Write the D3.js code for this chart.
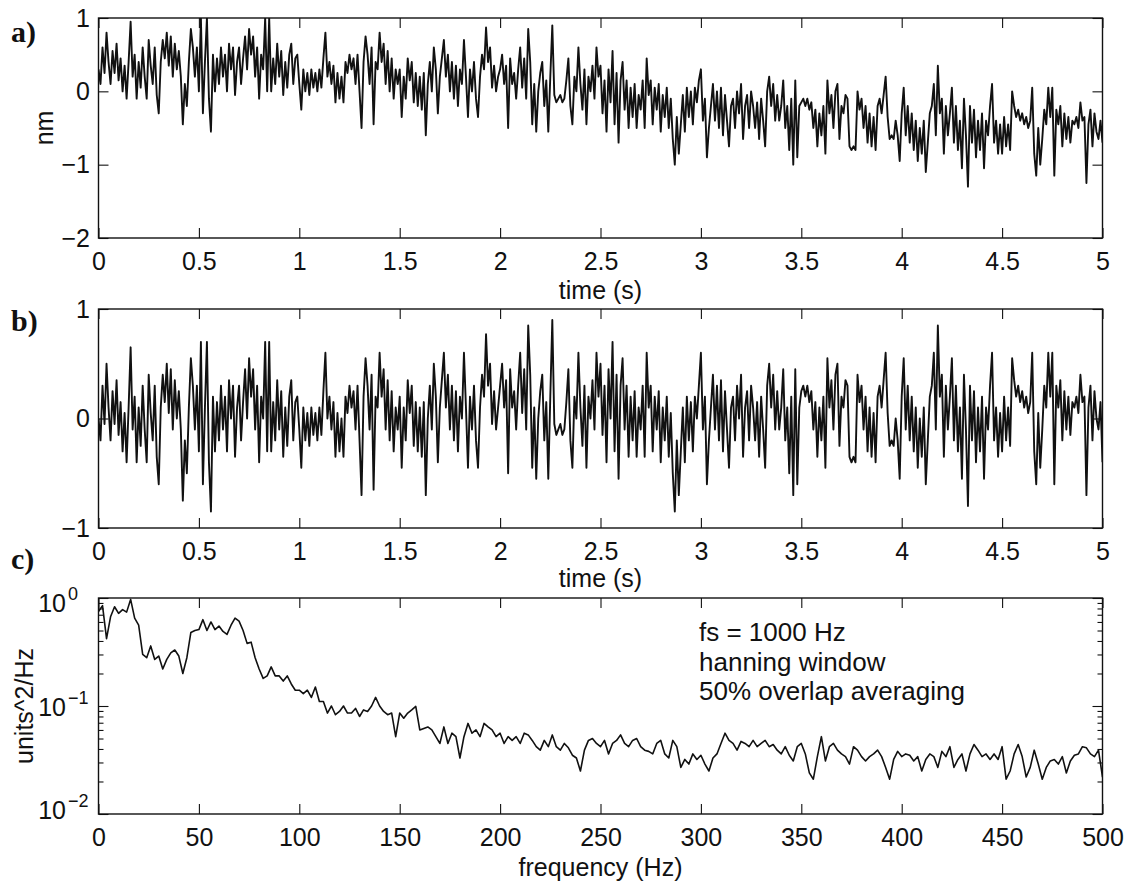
<!DOCTYPE html>
<html>
<head>
<meta charset="utf-8">
<script src="https://cdn.jsdelivr.net/npm/d3@7"></script>
<style>
  body { margin: 0; background: #fff; }
  svg text { font-family: "Liberation Sans", Arial, Helvetica, sans-serif; fill: #111; }
  .tk text { font-size: 25px; }
  .tk line { stroke: #111; stroke-width: 1.1; }
  .tag { font-family: "Liberation Serif", "Times New Roman", serif !important; font-weight: bold; font-size: 30px; }
</style>
</head>
<body>
<svg id="chart" width="1131" height="883"></svg>
<script>
// ---------------- data ----------------
const timeStep = 0.01;   // seconds between plotted samples
const freqStep = 2;      // Hz between spectrum bins

const timeTicks = [0, 0.5, 1, 1.5, 2, 2.5, 3, 3.5, 4, 4.5, 5];
const rawTicks = [-2, -1, 0, 1];
const detrendTicks = [-1, 0, 1];
const freqTicks = [0, 50, 100, 150, 200, 250, 300, 350, 400, 450, 500];
const psdDecades = [-2, -1, 0];
const annotationLines = ["fs = 1000 Hz", "hanning window", "50% overlap averaging"];

// a) raw displacement (nm), 0 … 5 s
const rawSignal = [
  0.30,0.10,0.60,0.25,0.80,0.40,0.10,0.55,0.25,0.65,
  0.15,0.45,0.00,0.35,-0.10,0.40,0.95,0.20,0.50,-0.10,
  0.40,0.05,0.60,0.20,-0.10,0.70,0.35,0.10,0.60,-0.05,
  -0.30,0.40,0.70,0.45,0.80,0.35,0.75,0.20,0.65,0.30,
  0.55,0.20,-0.45,0.10,-0.20,0.40,0.85,0.60,0.20,0.60,
  0.00,1.00,-0.30,0.40,1.00,-0.10,-0.55,0.50,0.00,0.45,
  0.10,0.60,0.20,0.50,0.00,0.65,0.30,0.60,-0.05,0.40,
  0.60,0.10,0.45,0.75,0.30,0.85,0.50,0.75,0.20,0.60,
  -0.10,0.50,0.30,1.00,0.00,1.00,0.00,0.45,0.10,0.65,
  0.20,0.55,-0.05,0.40,0.05,0.50,0.65,0.10,0.45,0.50,
  0.10,-0.25,0.30,0.00,0.25,-0.05,0.30,0.05,0.25,0.00,
  0.30,0.05,0.45,0.80,0.20,0.40,0.10,0.35,-0.15,0.25,
  -0.10,0.20,-0.15,0.40,0.25,0.50,0.30,0.45,0.10,0.50,
  0.00,-0.50,0.40,0.75,0.50,0.10,0.60,-0.45,0.40,0.30,
  0.80,0.40,0.65,0.10,0.55,0.00,0.45,-0.10,0.30,0.10,
  0.30,-0.35,0.20,-0.10,0.45,0.15,0.40,-0.15,0.25,-0.20,
  0.20,-0.25,0.25,-0.60,0.10,0.40,0.00,0.60,0.30,-0.30,
  0.20,0.45,0.70,0.20,0.50,0.00,0.40,-0.10,0.35,-0.20,
  0.30,0.10,0.70,0.20,-0.35,0.30,0.00,0.40,-0.10,-0.35,
  0.20,0.50,0.30,0.87,0.40,0.60,0.05,0.35,0.00,0.20,
  0.30,0.50,0.10,0.35,-0.50,0.45,0.10,0.25,-0.10,0.30,
  0.60,0.05,0.45,-0.10,0.85,0.40,-0.45,0.10,-0.55,0.00,
  0.25,0.40,-0.20,0.15,-0.55,0.20,0.90,-0.05,-0.15,-0.10,
  -0.05,-0.15,-0.10,0.15,0.45,-0.20,-0.45,0.20,0.00,0.60,
  0.10,-0.25,0.30,-0.45,0.20,0.00,0.35,-0.10,0.60,0.20,
  0.35,-0.30,0.15,-0.55,0.30,-0.15,0.55,-0.45,0.25,-0.70,
  0.15,0.40,-0.25,0.15,-0.50,0.05,-0.35,0.10,-0.50,-0.05,
  -0.25,0.15,-0.50,0.45,-0.05,0.15,-0.45,0.05,-0.25,0.10,
  -0.55,-0.05,-0.35,0.05,-0.50,-0.10,-0.65,-1.00,-0.35,-0.85,
  -0.45,-0.05,-0.55,0.05,-0.35,0.00,-0.45,0.05,-0.15,0.15,
  0.30,-0.40,-0.10,-0.90,-0.50,-0.20,0.10,-0.40,0.00,-0.50,
  0.05,-0.60,-0.05,-0.40,-0.75,-0.20,-0.10,-0.50,0.00,-0.30,
  0.10,-0.65,-0.20,-0.05,-0.50,0.00,-0.20,-0.50,-0.15,-0.65,
  -0.10,-0.40,-0.75,0.00,0.20,-0.20,0.10,-0.40,-0.05,-0.40,
  -0.20,0.15,-0.50,-0.20,-0.80,-0.10,-1.00,0.15,-0.90,-0.20,
  -0.15,-0.10,-0.20,-0.10,-0.25,-0.15,-0.50,-0.25,-0.75,-0.30,
  -0.60,-0.20,-0.85,0.15,-0.30,-0.05,-0.50,0.00,0.10,-0.65,
  -0.20,-0.30,-0.05,-0.10,-0.75,-0.80,-0.75,-0.80,0.00,-0.25,
  -0.10,-0.50,-0.20,-0.70,-0.30,-0.75,-0.35,-0.80,-0.20,-0.10,
  -0.30,-0.05,0.20,-0.35,-0.65,-0.60,-0.65,-0.40,-0.60,-0.95,
  -0.30,0.05,-0.60,-0.20,-0.70,-0.30,-0.80,-0.40,-0.95,-0.50,
  -0.85,-0.40,-1.10,-0.70,-0.30,-0.20,0.10,-0.60,0.35,-0.30,
  -0.10,-0.85,-0.20,-0.60,-0.30,0.05,-0.70,-0.20,-0.80,-0.40,
  -1.05,-0.10,-0.60,-1.30,-0.20,-0.70,-0.25,-0.90,-0.40,-0.80,
  -0.30,-1.05,-0.40,-0.60,-0.20,0.10,-0.70,-0.40,-0.85,-0.45,
  -0.85,-0.35,-0.75,-0.45,-0.80,0.00,-0.20,-0.35,-0.25,-0.40,
  -0.30,-0.45,-0.35,-0.50,-0.40,0.05,-0.85,-1.15,-0.50,-1.00,
  -0.65,-0.25,-0.45,0.05,-0.35,0.05,-1.15,-0.25,-0.45,-0.20,
  -0.75,-0.30,-0.65,-0.35,-0.70,-0.40,-0.45,-0.35,-0.50,-0.15,
  -0.40,-0.35,-1.25,-0.45,-0.25,-0.75,-0.30,-0.55,-0.65,-0.40,
  -0.70
];

// b) same record after trend removal
const detrendedSignal = [
  0.00,-0.20,0.30,-0.05,0.50,0.10,-0.20,0.25,-0.05,0.35,
  -0.15,0.15,-0.30,0.05,-0.40,0.10,0.65,-0.10,0.20,-0.40,
  0.10,-0.25,0.30,-0.10,-0.40,0.40,0.05,-0.20,0.30,-0.35,
  -0.60,0.10,0.40,0.15,0.50,0.05,0.45,-0.10,0.35,0.00,
  0.25,-0.10,-0.75,-0.20,-0.50,0.10,0.55,0.30,-0.10,0.30,
  -0.30,0.70,-0.60,0.10,0.70,-0.40,-0.85,0.20,-0.30,0.15,
  -0.20,0.30,-0.10,0.20,-0.30,0.35,0.00,0.30,-0.35,0.10,
  0.30,-0.20,0.15,0.45,0.00,0.55,0.20,0.45,-0.10,0.30,
  -0.40,0.20,0.00,0.70,-0.30,0.70,-0.30,0.15,-0.20,0.35,
  -0.10,0.25,-0.35,0.10,-0.25,0.20,0.35,-0.20,0.15,0.20,
  -0.10,-0.45,0.10,-0.20,0.05,-0.25,0.10,-0.15,0.05,-0.20,
  0.10,-0.15,0.25,0.60,0.00,0.20,-0.10,0.15,-0.35,0.05,
  -0.30,0.00,-0.35,0.20,0.05,0.30,0.10,0.25,-0.10,0.30,
  -0.20,-0.70,0.20,0.55,0.30,-0.10,0.40,-0.65,0.20,0.10,
  0.60,0.20,0.45,-0.10,0.35,-0.20,0.25,-0.30,0.10,-0.10,
  0.20,-0.45,0.10,-0.20,0.35,0.05,0.30,-0.25,0.15,-0.30,
  0.10,-0.35,0.15,-0.70,0.00,0.30,-0.10,0.50,0.20,-0.40,
  0.10,0.35,0.60,0.10,0.40,-0.10,0.30,-0.20,0.25,-0.30,
  0.20,0.00,0.60,0.10,-0.45,0.20,-0.10,0.30,-0.20,-0.45,
  0.10,0.40,0.20,0.77,0.30,0.50,-0.05,0.25,-0.10,0.10,
  0.30,0.50,0.10,0.35,-0.50,0.45,0.10,0.25,-0.10,0.30,
  0.60,0.05,0.45,-0.10,0.85,0.40,-0.45,0.10,-0.55,0.00,
  0.25,0.40,-0.20,0.15,-0.55,0.20,0.90,-0.05,-0.15,-0.10,
  -0.05,-0.15,-0.10,0.15,0.45,-0.20,-0.45,0.20,0.00,0.60,
  0.10,-0.25,0.30,-0.45,0.20,0.00,0.35,-0.10,0.60,0.20,
  0.50,-0.15,0.30,-0.40,0.45,0.00,0.70,-0.30,0.40,-0.55,
  0.30,0.55,-0.10,0.30,-0.35,0.20,-0.20,0.25,-0.35,0.10,
  -0.10,0.30,-0.35,0.60,0.10,0.30,-0.30,0.20,-0.10,0.25,
  -0.40,0.10,-0.20,0.20,-0.35,0.05,-0.50,-0.85,-0.20,-0.70,
  -0.30,0.10,-0.40,0.20,-0.20,0.15,-0.30,0.20,0.00,0.30,
  0.60,-0.10,0.20,-0.60,-0.20,0.10,0.40,-0.10,0.30,-0.20,
  0.35,-0.30,0.25,-0.10,-0.45,0.10,0.20,-0.20,0.30,0.00,
  0.40,-0.35,0.10,0.25,-0.20,0.30,0.10,-0.20,0.15,-0.35,
  0.20,-0.10,-0.45,0.30,0.50,0.10,0.40,-0.10,0.25,-0.10,
  0.10,0.45,-0.20,0.10,-0.50,0.20,-0.70,0.45,-0.60,0.10,
  0.25,0.30,0.20,0.30,0.15,0.25,-0.10,0.15,-0.35,0.10,
  -0.20,0.20,-0.45,0.55,0.10,0.35,-0.10,0.40,0.50,-0.25,
  0.20,0.10,0.35,0.30,-0.35,-0.40,-0.35,-0.40,0.40,0.15,
  0.30,-0.10,0.20,-0.30,0.10,-0.35,0.05,-0.40,0.20,0.30,
  0.10,0.35,0.60,0.05,-0.25,-0.20,-0.25,0.00,-0.20,-0.55,
  0.20,0.55,-0.10,0.30,-0.20,0.20,-0.30,0.10,-0.45,0.00,
  -0.35,0.10,-0.60,-0.20,0.20,0.30,0.60,-0.10,0.85,0.20,
  0.40,-0.35,0.30,-0.10,0.20,0.55,-0.20,0.30,-0.30,0.10,
  -0.55,0.40,-0.10,-0.80,0.30,-0.20,0.25,-0.40,0.10,-0.30,
  0.20,-0.55,0.10,-0.10,0.30,0.60,-0.20,0.10,-0.35,0.05,
  -0.30,0.20,-0.20,0.10,-0.25,0.55,0.35,0.20,0.30,0.15,
  0.25,0.10,0.20,0.05,0.15,0.60,-0.30,-0.60,0.05,-0.45,
  -0.10,0.30,0.10,0.60,0.20,0.60,-0.60,0.30,0.10,0.35,
  -0.20,0.25,-0.10,0.20,-0.15,0.15,0.10,0.20,0.05,0.40,
  0.15,0.20,-0.70,0.10,0.30,-0.20,0.25,0.00,-0.10,0.15,
  -0.40
];

// c) power spectral density (units^2/Hz), 0 … 500 Hz
const psdValues = [
  0.75,0.85,0.42,0.67,0.83,0.72,0.78,0.74,0.97,0.65,
  0.56,0.30,0.28,0.36,0.27,0.29,0.22,0.27,0.31,0.33,
  0.29,0.20,0.28,0.48,0.50,0.51,0.63,0.50,0.60,0.51,
  0.55,0.49,0.46,0.56,0.65,0.61,0.50,0.38,0.39,0.28,
  0.22,0.18,0.19,0.23,0.19,0.19,0.17,0.19,0.16,0.14,
  0.14,0.13,0.14,0.12,0.15,0.11,0.11,0.086,0.10,0.083,
  0.089,0.10,0.086,0.086,0.095,0.080,0.092,0.089,0.10,0.12,
  0.10,0.089,0.083,0.086,0.052,0.086,0.077,0.086,0.092,0.099,
  0.060,0.062,0.064,0.060,0.052,0.045,0.064,0.045,0.056,0.052,
  0.033,0.052,0.069,0.056,0.060,0.052,0.069,0.064,0.060,0.052,
  0.056,0.045,0.052,0.048,0.052,0.045,0.056,0.054,0.048,0.042,
  0.039,0.048,0.042,0.054,0.042,0.039,0.045,0.041,0.035,0.033,
  0.025,0.039,0.048,0.050,0.045,0.042,0.048,0.036,0.045,0.048,
  0.054,0.045,0.042,0.048,0.050,0.042,0.039,0.038,0.036,0.045,
  0.048,0.036,0.033,0.048,0.042,0.027,0.032,0.029,0.036,0.032,
  0.035,0.029,0.025,0.033,0.036,0.045,0.056,0.048,0.045,0.039,
  0.047,0.045,0.042,0.048,0.042,0.045,0.048,0.042,0.044,0.039,
  0.036,0.042,0.035,0.031,0.042,0.045,0.036,0.024,0.021,0.034,
  0.052,0.031,0.042,0.045,0.039,0.036,0.034,0.029,0.042,0.039,
  0.034,0.031,0.034,0.036,0.039,0.034,0.027,0.021,0.032,0.038,
  0.034,0.036,0.035,0.031,0.034,0.025,0.032,0.036,0.034,0.027,
  0.038,0.034,0.042,0.027,0.032,0.036,0.025,0.036,0.044,0.039,
  0.034,0.036,0.032,0.036,0.032,0.042,0.021,0.025,0.036,0.044,
  0.034,0.022,0.027,0.039,0.029,0.021,0.027,0.031,0.032,0.029,
  0.034,0.024,0.031,0.035,0.036,0.042,0.041,0.036,0.034,0.039,
  0.022
];

// ---------------- layout ----------------
const svg = d3.select("#chart");
const plotLeft = 98.5, plotRight = 1102.5;
const ink = "#111";

const xTime = d3.scaleLinear().domain([0, 5]).range([plotLeft, plotRight]);
const xFreq = d3.scaleLinear().domain([0, 500]).range([plotLeft, plotRight]);

const minusFmt = d => (d < 0 ? "\u2212" + Math.abs(d) : String(d));

function noDomain(sel) { sel.select(".domain").remove(); }

function frame(g, top, bottom, id) {
  g.append("clipPath").attr("id", id)
    .append("rect").attr("x", plotLeft).attr("y", top)
    .attr("width", plotRight - plotLeft).attr("height", bottom - top);
}

function boxOutline(g, top, bottom) {
  g.append("rect")
    .attr("x", plotLeft).attr("y", top)
    .attr("width", plotRight - plotLeft).attr("height", bottom - top)
    .attr("fill", "none").attr("stroke", ink).attr("stroke-width", 1.4);
}

function xAxes(g, x, top, bottom, ticks) {
  g.append("g").attr("class", "tk").attr("transform", `translate(0,${bottom})`)
    .call(d3.axisBottom(x).tickValues(ticks).tickSize(-10).tickSizeOuter(0)
      .tickPadding(14).tickFormat(d => String(d)))
    .call(noDomain);
  g.append("g").attr("class", "tk").attr("transform", `translate(0,${top})`)
    .call(d3.axisTop(x).tickValues(ticks).tickSize(-10).tickSizeOuter(0).tickFormat(""))
    .call(noDomain);
}

function yAxesLinear(g, y, ticks) {
  g.append("g").attr("class", "tk").attr("transform", `translate(${plotLeft},0)`)
    .call(d3.axisLeft(y).tickValues(ticks).tickSize(-10).tickSizeOuter(0)
      .tickPadding(8.5).tickFormat(minusFmt))
    .call(noDomain);
  g.append("g").attr("class", "tk").attr("transform", `translate(${plotRight},0)`)
    .call(d3.axisRight(y).tickValues(ticks).tickSize(-10).tickSizeOuter(0).tickFormat(""))
    .call(noDomain);
}

function axisTitle(g, text, x, y) {
  g.append("text").attr("x", x).attr("y", y)
    .attr("text-anchor", "middle").attr("font-size", 25).text(text);
}

function yTitle(g, text, x, yc) {
  g.append("text").attr("transform", `translate(${x},${yc}) rotate(-90)`)
    .attr("text-anchor", "middle").attr("font-size", 25).text(text);
}

function tag(text, x, y) {
  svg.append("text").attr("class", "tag").attr("x", x).attr("y", y).text(text);
}

function trace(g, data, x, y, step, clipId, width) {
  const line = d3.line().x((d, i) => x(i * step)).y(d => y(d));
  g.append("path").datum(data)
    .attr("clip-path", `url(#${clipId})`)
    .attr("d", line)
    .attr("fill", "none").attr("stroke", ink)
    .attr("stroke-width", width).attr("stroke-linejoin", "round");
}

// ---------- panel a ----------
{
  const top = 18, bottom = 238;
  const y = d3.scaleLinear().domain([-2, 1]).range([bottom, top]);
  const g = svg.append("g");
  frame(g, top, bottom, "clipA");
  trace(g, rawSignal, xTime, y, timeStep, "clipA", 1.9);
  xAxes(g, xTime, top, bottom, timeTicks);
  yAxesLinear(g, y, rawTicks);
  boxOutline(g, top, bottom);
  axisTitle(g, "time (s)", (plotLeft + plotRight) / 2, bottom + 61);
  yTitle(g, "nm", 53, (top + bottom) / 2);
  tag("a)", 11, 42);
}

// ---------- panel b ----------
{
  const top = 309, bottom = 528;
  const y = d3.scaleLinear().domain([-1, 1]).range([bottom, top]);
  const g = svg.append("g");
  frame(g, top, bottom, "clipB");
  trace(g, detrendedSignal, xTime, y, timeStep, "clipB", 1.9);
  xAxes(g, xTime, top, bottom, timeTicks);
  yAxesLinear(g, y, detrendTicks);
  boxOutline(g, top, bottom);
  axisTitle(g, "time (s)", (plotLeft + plotRight) / 2, bottom + 59);
  tag("b)", 11, 331);
}

// ---------- panel c ----------
{
  const top = 598, bottom = 814;
  const y = d3.scaleLog().domain([0.01, 1]).range([bottom, top]);
  const g = svg.append("g");
  frame(g, top, bottom, "clipC");
  trace(g, psdValues, xFreq, y, freqStep, "clipC", 1.6);
  xAxes(g, xFreq, top, bottom, freqTicks);

  const majors = psdDecades.map(p => Math.pow(10, p));
  const minors = [];
  psdDecades.slice(0, -1).forEach(p => {
    for (let k = 2; k <= 9; k++) minors.push(k * Math.pow(10, p));
  });
  [[d3.axisLeft, plotLeft], [d3.axisRight, plotRight]].forEach(([axisFn, xp]) => {
    g.append("g").attr("class", "tk").attr("transform", `translate(${xp},0)`)
      .call(axisFn(y).tickValues(majors).tickSize(-10).tickSizeOuter(0).tickFormat(""))
      .call(noDomain);
    g.append("g").attr("class", "tk").attr("transform", `translate(${xp},0)`)
      .call(axisFn(y).tickValues(minors).tickSize(-5).tickSizeOuter(0).tickFormat(""))
      .call(noDomain);
  });

  // decade labels: base 10 with raised exponent
  const nudge = { "0": 5, "-1": 1, "-2": -4 };
  psdDecades.forEach(p => {
    const ty = y(Math.pow(10, p)) + nudge[String(p)];
    g.append("text").attr("x", 66).attr("y", ty + 9)
      .attr("text-anchor", "end").attr("font-size", 25).text("10");
    g.append("text").attr("x", 68).attr("y", ty - 3)
      .attr("font-size", 18).text(minusFmt(p));
  });

  boxOutline(g, top, bottom);
  axisTitle(g, "frequency (Hz)", (plotLeft + plotRight) / 2, bottom + 62);
  yTitle(g, "units^2/Hz", 33, (top + bottom) / 2);
  tag("c)", 11, 569);

  annotationLines.forEach((t, i) => {
    g.append("text").attr("x", 699).attr("y", 641 + i * 29.5)
      .attr("font-size", 26).text(t);
  });
}
</script>
</body>
</html>
